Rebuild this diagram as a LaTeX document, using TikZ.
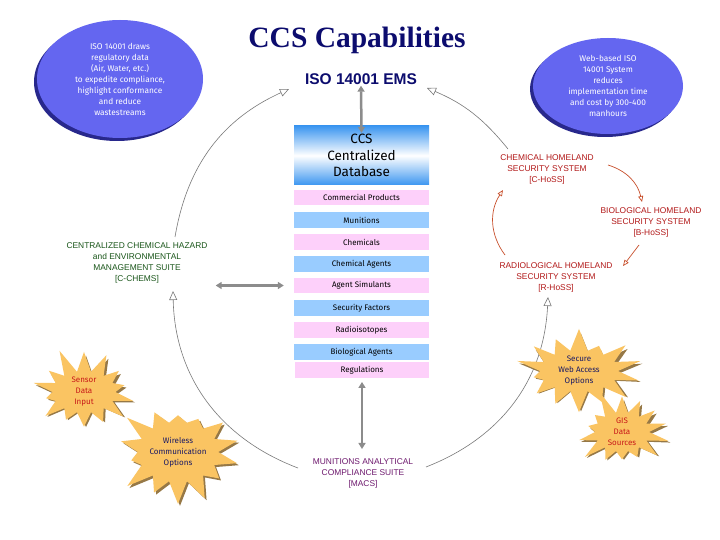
\documentclass[tikz,border=0pt]{standalone}
\usepackage{fontspec}
\setmainfont{Liberation Serif}
\newfontfamily\arialf{Liberation Sans}
\newfontfamily\comic{Fira Sans}
\usetikzlibrary{shapes.geometric,shapes.symbols,arrows.meta}
\definecolor{navy}{RGB}{12,12,110}
\definecolor{ellblue}{RGB}{100,102,240}
\definecolor{ellshadow}{RGB}{40,40,140}
\definecolor{dbblue}{RGB}{60,150,240}
\definecolor{pinkc}{RGB}{253,208,250}
\definecolor{lblue}{RGB}{153,204,255}
\definecolor{arrgray}{RGB}{140,140,140}
\definecolor{circgray}{RGB}{120,120,120}
\definecolor{hossred}{RGB}{178,24,24}
\definecolor{redarr}{RGB}{200,80,45}
\definecolor{chemgreen}{RGB}{25,85,25}
\definecolor{macspurple}{RGB}{110,25,110}
\definecolor{burstc}{RGB}{250,196,98}
\definecolor{burstsh}{RGB}{150,120,70}
\definecolor{burstred}{RGB}{200,25,25}
\definecolor{burstnavy}{RGB}{25,25,100}
\begin{document}
\begin{tikzpicture}[x=1pt,y=-1pt,
 bubble/.style={ellipse, fill=ellblue, text=white, font=\comic\fontsize{8.3}{11}\selectfont, align=center, inner sep=0pt},
 bubshadow/.style={ellipse, fill=ellshadow, inner sep=0pt},
 listbox/.style={minimum width=135pt, minimum height=15.5pt, inner sep=0pt, font=\comic\fontsize{8}{10}\selectfont},
 pinkbox/.style={listbox, fill=pinkc},
 bluebox/.style={listbox, fill=lblue},
 caplabel/.style={font=\arialf\fontsize{8.4}{11}\selectfont, align=center, inner sep=1pt},
 circarrow/.style={draw=circgray, line width=0.6pt, -{Triangle[open, length=9pt, width=8pt]}},
 dblarrow/.style={draw=arrgray, line width=2.5pt, {Triangle[length=6pt,width=7pt]}-{Triangle[length=6pt,width=7pt]}},
 redarrow/.style={draw=redarr, line width=0.7pt, -{Triangle[open,length=6pt,width=5pt]}},
 burstbase/.style={starburst, starburst points=14, starburst point height=26pt, inner sep=0pt, font=\comic\fontsize{8}{11}\selectfont, align=center},
 burst/.style={burstbase, fill=burstc},
 burstshadow/.style={burstbase, fill=burstsh},
]
\fill[white] (0,0) rectangle (720,540);
\useasboundingbox (0,0) rectangle (720,540);

% title
\node[font=\bfseries\fontsize{29.5}{32}\selectfont, text=navy] (title) at (357,40) {CCS Capabilities};
\node[font=\arialf\bfseries\fontsize{15.5}{18}\selectfont, text=navy, inner sep=1pt] (iso) at (361,79) {ISO 14001 EMS};

% ellipses
\node[bubshadow, minimum width=166pt, minimum height=118pt] (isoinfosh) at (117,82) {};
\node[bubble, minimum width=166pt, minimum height=118pt] (isoinfo) at (120,79)
 {ISO 14001 draws\\regulatory data\\(Air, Water, etc.)\\to expedite compliance,\\highlight conformance\\and reduce\\wastestreams};
\node[bubshadow, minimum width=150pt, minimum height=96pt] (websh) at (605,89) {};
\node[bubble, minimum width=150pt, minimum height=96pt] (web) at (608,86)
 {Web-based ISO\\14001 System\\reduces\\implementation time\\and cost by 300-400\\manhours};

% database
\node[minimum width=135pt, minimum height=59pt, inner sep=0pt, top color=dbblue, bottom color=dbblue, middle color=white,
 font=\comic\fontsize{13.5}{16.5}\selectfont, align=center] (db) at (361.5,155.5) {CCS\\Centralized\\Database};

% list
\node[pinkbox] (comm) at (361.5,197.5) {Commercial Products};
\node[bluebox] (mun) at (361.5,220) {Munitions};
\node[pinkbox] (chem) at (361.5,242) {Chemicals};
\node[bluebox] (chemag) at (361.5,264) {Chemical Agents};
\node[pinkbox] (sim) at (361.5,285.5) {Agent Simulants};
\node[bluebox] (sec) at (361.5,308) {Security Factors};
\node[pinkbox] (rad) at (361.5,330) {Radioisotopes};
\node[bluebox] (bio) at (361.5,352) {Biological Agents};
\node[pinkbox, minimum width=134pt] (reg) at (362,370) {Regulations};

% labels
\node[caplabel, text=hossred] (choss) at (547,169.5) {CHEMICAL HOMELAND\\SECURITY SYSTEM\\{[C-HoSS]}};
\node[caplabel, text=hossred] (bhoss) at (651,222) {BIOLOGICAL HOMELAND\\SECURITY SYSTEM\\{[B-HoSS]}};
\node[caplabel, text=hossred] (rhoss) at (556,277) {RADIOLOGICAL HOMELAND\\SECURITY SYSTEM\\{[R-HoSS]}};
\node[caplabel, text=chemgreen] (cchems) at (137,262.5) {CENTRALIZED CHEMICAL HAZARD\\and ENVIRONMENTAL\\MANAGEMENT SUITE\\{[C-CHEMS]}};
\node[caplabel, text=macspurple] (macs) at (363,473) {MUNITIONS ANALYTICAL\\COMPLIANCE SUITE\\{[MACS]}};

% gray double arrows
\draw[dblarrow] (iso.south) -- ([yshift=-7pt]db.north);
\draw[dblarrow, shorten <=7pt, shorten >=10pt] (cchems.east |- sim.west) -- (sim.west);
\draw[dblarrow, shorten <=4pt, shorten >=8pt] (reg.south) -- (reg.south |- macs.north);

% big circle arcs
\coordinate (a1s) at (175,237); \coordinate (a1e) at (289,89);
\draw[circarrow] (a1s) to[bend left=28] (a1e);
\coordinate (a2s) at (508,149); \coordinate (a2e) at (427,88);
\draw[circarrow] (a2s) to[bend right=14] (a2e);
\coordinate (a3s) at (298,468); \coordinate (a3e) at (173,291);
\draw[circarrow] (a3s) to[bend left=34] (a3e);
\coordinate (a4s) at (426,467); \coordinate (a4e) at (548,297);
\draw[circarrow] (a4s) to[bend right=33] (a4e);

% red cycle arrows
\coordinate (r1s) at (608,165); \coordinate (r1e) at (642,202);
\draw[redarrow] (r1s) to[bend left=30] (r1e);
\coordinate (r2s) at (639,245); \coordinate (r2e) at (623,266);
\draw[redarrow] (r2s) -- (r2e);
\coordinate (r3s) at (505,255); \coordinate (r3e) at (503,190);
\draw[redarrow] (r3s) to[bend left=35] (r3e);

% starbursts
\node[burstshadow, random starburst=11, minimum width=115pt, minimum height=90pt] (sensorsh) at (86,394) {};
\node[burst, random starburst=11, minimum width=115pt, minimum height=90pt, text=burstred] (sensor) at (84,392) {Sensor\\Data\\Input};
\node[burstshadow, random starburst=23, minimum width=132pt, minimum height=112pt] (wirelesssh) at (180,454) {};
\node[burst, random starburst=23, minimum width=132pt, minimum height=112pt, text=burstnavy] (wireless) at (178,452) {Wireless\\Communication\\Options};
\node[burstshadow, random starburst=37, minimum width=130pt, minimum height=88pt] (securesh) at (581,373) {};
\node[burst, random starburst=37, minimum width=130pt, minimum height=88pt, text=burstnavy] (secure) at (579,371) {Secure\\Web Access\\Options};
\node[burstshadow, random starburst=5, minimum width=106pt, minimum height=88pt] (gissh) at (624,434) {};
\node[burst, random starburst=5, minimum width=106pt, minimum height=88pt, text=burstred] (gis) at (622,432) {GIS\\Data\\Sources};
\end{tikzpicture}
\end{document}
